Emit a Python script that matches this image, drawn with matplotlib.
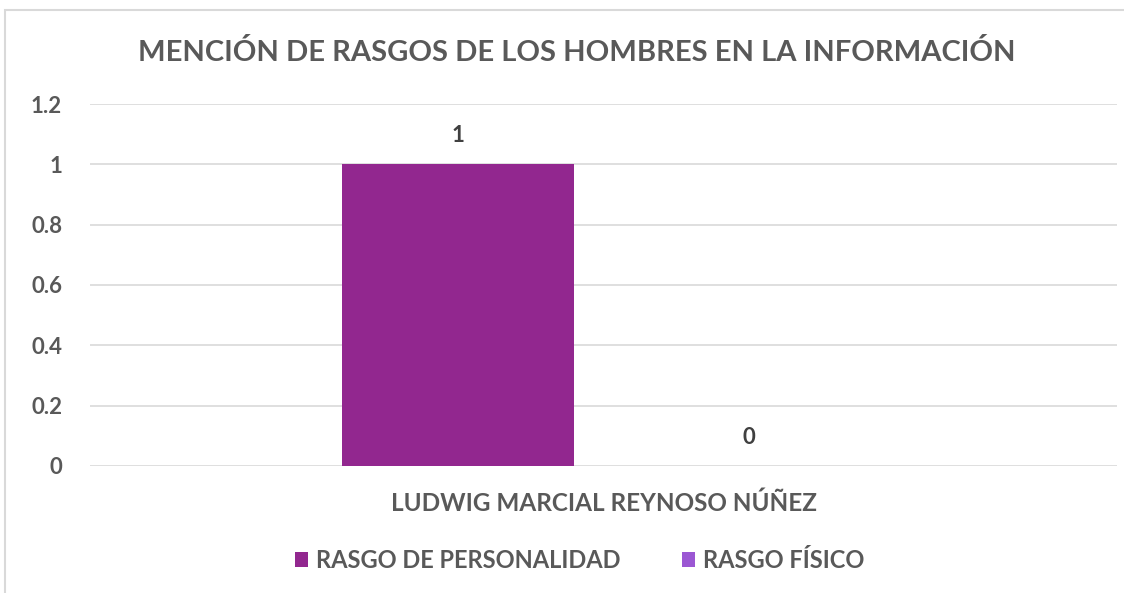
import matplotlib.pyplot as plt
import numpy as np
from matplotlib.patches import Rectangle

plt.rcParams['font.family'] = ['Lato', 'DejaVu Sans']

# data
category = "LUDWIG MARCIAL REYNOSO NÚÑEZ"
series_names = ["RASGO DE PERSONALIDAD", "RASGO FÍSICO"]
series_values = [1, 0]
series_colors = ["#92278F", "#9B57D3"]
yticks = [0, 0.2, 0.4, 0.6, 0.8, 1, 1.2]
ytick_labels = ["0", "0.2", "0.4", "0.6", "0.8", "1", "1.2"]

text_color = "#595959"
grid_color = "#D9D9D9"

fig = plt.figure(figsize=(11.24, 5.93), dpi=100)
ax = fig.add_axes([0.080, 0.2142, 0.914, 0.6104])

bar_w = 0.225
offsets = [-0.1417, 0.1417]
for name, val, col, off in zip(series_names, series_values, series_colors, offsets):
    ax.bar(off, val, width=bar_w, color=col, label=name, zorder=3)
    ax.text(off, val + 0.06, f"{val:g}", ha="center", va="bottom",
            fontsize=16, fontweight="bold", color="#404040")

ax.set_xlim(-0.5, 0.5)
ax.set_ylim(0, 1.2)
ax.set_yticks(yticks)
ax.set_yticklabels(ytick_labels, fontsize=16, fontweight="bold", color=text_color)
ax.tick_params(axis="y", length=0, pad=20)
ax.set_xticks([])
ax.grid(axis="y", color=grid_color, linewidth=1.2, zorder=0)
for s in ax.spines.values():
    s.set_visible(False)

ax.text(0, -0.103, category, transform=ax.get_xaxis_transform(), ha="center", va="center",
        fontsize=17.5, fontweight="bold", color=text_color)

fig.text(0.513, 0.912, "MENCIÓN DE RASGOS DE LOS HOMBRES EN LA INFORMACIÓN",
         ha="center", va="center", fontsize=21, fontweight="bold", color=text_color)

leg = fig.legend(loc="center", bbox_to_anchor=(0.516, 0.055), ncol=2, frameon=False,
                 handlelength=0.55, handleheight=0.55, handletextpad=0.35, columnspacing=2.6,
                 prop={"size": 17, "weight": "bold"})
for t in leg.get_texts():
    t.set_color(text_color)

# outer chart border
fig.patches.append(Rectangle((5 / 1124, -0.1), 1.1, 1 - 10 / 593 + 0.1,
                             transform=fig.transFigure, fill=False,
                             edgecolor=grid_color, linewidth=1.5))

fig.savefig("out.png", dpi=100)
